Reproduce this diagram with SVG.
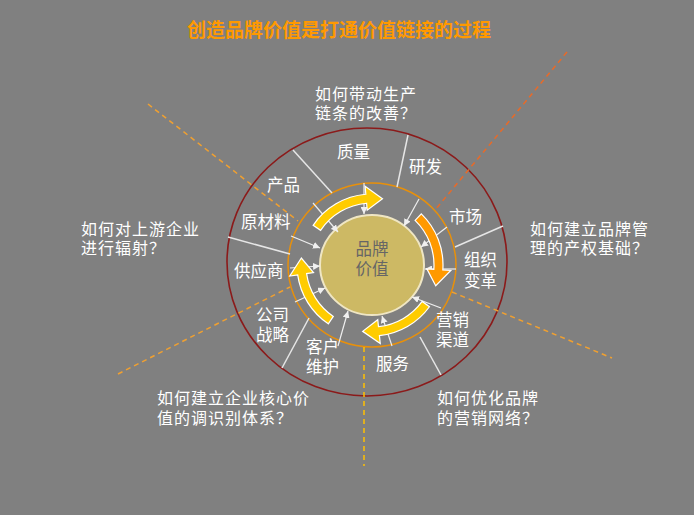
<svg xmlns="http://www.w3.org/2000/svg" width="694" height="515" viewBox="0 0 694 515">
<style>
text{font-family:"Noto Sans CJK SC","Noto Sans",sans-serif;fill:#fff}
.q{font-size:16px;letter-spacing:1px}
.l{font-size:16.5px}
.spoke{stroke:#e6e6e6;stroke-width:1.5;fill:none}
.ar{stroke:#eeeeee;stroke-width:1.2;fill:none;marker-end:url(#ah)}
.dash{fill:none;stroke-width:1.5;stroke-dasharray:5 4}
.fat{stroke:#fff;stroke-width:1.2;stroke-linejoin:miter}
</style>
<defs>
<marker id="ah" viewBox="0 0 10 10" markerUnits="userSpaceOnUse" markerWidth="7" markerHeight="7" refX="10" refY="5" orient="auto">
<path d="M0,0 L10,5 L0,10 Z" fill="#f0f0f0"/>
</marker>
</defs>
<rect width="694" height="515" fill="#808080"/>
<text x="187" y="37" style="font-size:19px;font-weight:bold;fill:#ff9900">创造品牌价值是打通价值链接的过程</text>

<g id="rings">
<ellipse cx="367" cy="262" rx="140" ry="134" fill="none" stroke="#8b1a1a" stroke-width="1.6"/>
<ellipse cx="372" cy="265" rx="84" ry="82" fill="none" stroke="#e8900a" stroke-width="1.5"/>
</g>

<g id="connectors">
<line class="dash" x1="148" y1="104" x2="298" y2="221" stroke="#f0a030"/>
<line class="dash" x1="567" y1="52" x2="435" y2="210" stroke="#e86a28"/>
<line class="dash" x1="118" y1="374" x2="290" y2="287" stroke="#f0a030"/>
<line class="dash" x1="452" y1="292" x2="612" y2="358" stroke="#f0a030"/>
<line class="dash" x1="364" y1="347" x2="364" y2="466" stroke="#ffc000"/>
<line class="spoke" x1="293" y1="150" x2="332" y2="193"/>
<line class="spoke" x1="408" y1="135" x2="397" y2="187"/>
<line class="spoke" x1="503" y1="226" x2="455" y2="247"/>
<line class="spoke" x1="441" y1="375" x2="420" y2="337"/>
<line class="spoke" x1="282" y1="368" x2="309" y2="318"/>
<line class="spoke" x1="228" y1="237" x2="290" y2="254"/>
</g>

<g id="core">
<ellipse cx="372" cy="265" rx="52" ry="50" fill="#cdb964" stroke="#efe6c4" stroke-width="2"/>
<text x="372" y="255" text-anchor="middle" style="font-size:16.5px;fill:#666">品牌</text>
<text x="372" y="275" text-anchor="middle" style="font-size:16.5px;fill:#666">价值</text>
</g>

<g id="inflows">
<line class="ar" x1="364" y1="183" x2="364" y2="214"/>
<line class="ar" x1="419" y1="199" x2="404" y2="226"/>
<line class="ar" x1="447" y1="227" x2="421" y2="247"/>
<line class="ar" x1="456" y1="269" x2="425" y2="269"/>
<line class="ar" x1="441" y1="308" x2="412" y2="297"/>
<line class="ar" x1="392" y1="346" x2="382" y2="316"/>
<line class="ar" x1="338" y1="346" x2="348" y2="311"/>
<line class="ar" x1="295" y1="302" x2="325" y2="288"/>
<line class="ar" x1="290" y1="268" x2="320" y2="266"/>
<line class="ar" x1="291" y1="236" x2="320" y2="248"/>
<line class="ar" x1="313" y1="203" x2="338" y2="232"/>
</g>

<g id="cycle">
<path class="fat" fill="#ffcc00" d="M313.14,225.30 A71,71 0 0,1 365.81,194.27 L365.11,186.30 L382.48,198.82 L367.20,210.21 L366.59,203.24 A62,62 0 0,0 320.60,230.33 Z"/>
<path class="fat" fill="#ff9900" d="M421.32,213.93 A71,71 0 0,1 442.83,269.96 L450.81,270.51 L435.72,285.70 L426.87,268.84 L433.85,269.33 A62,62 0 0,0 415.07,220.40 Z"/>
<path class="fat" fill="#ffcc00" d="M429.44,306.73 A71,71 0 0,1 379.42,335.61 L380.26,343.57 L362.67,331.35 L377.75,319.70 L378.48,326.66 A62,62 0 0,0 422.16,301.44 Z"/>
<path class="fat" fill="#ffcc00" transform="translate(-4,0)" d="M332.30,323.86 A71,71 0 0,1 301.69,274.88 L293.77,276.00 L305.37,258.00 L317.53,272.66 L310.60,273.63 A62,62 0 0,0 337.33,316.40 Z"/>
</g>

<g id="labels">
<text class="l" x="337" y="158">质量</text>
<text class="l" x="409" y="173">研发</text>
<text class="l" x="267" y="191">产品</text>
<text class="l" x="241" y="228">原材料</text>
<text class="l" x="449" y="223">市场</text>
<text class="l" x="234" y="277">供应商</text>
<text class="l" x="464" y="266">组织</text>
<text class="l" x="464" y="287">变革</text>
<text class="l" x="256" y="321">公司</text>
<text class="l" x="256" y="341">战略</text>
<text class="l" x="306" y="353">客户</text>
<text class="l" x="306" y="373">维护</text>
<text class="l" x="376" y="370">服务</text>
<text class="l" x="436" y="326">营销</text>
<text class="l" x="436" y="346">渠道</text>
</g>

<g id="questions">
<text class="q" x="315" y="100">如何带动生产</text>
<text class="q" x="315" y="119">链条的改善？</text>
<text class="q" x="81" y="235">如何对上游企业</text>
<text class="q" x="81" y="254">进行辐射？</text>
<text class="q" x="530" y="235">如何建立品牌管</text>
<text class="q" x="530" y="254">理的产权基础？</text>
<text class="q" x="157" y="404">如何建立企业核心价</text>
<text class="q" x="157" y="424">值的调识别体系？</text>
<text class="q" x="437" y="404">如何优化品牌</text>
<text class="q" x="437" y="424">的营销网络？</text>
</g>
</svg>
